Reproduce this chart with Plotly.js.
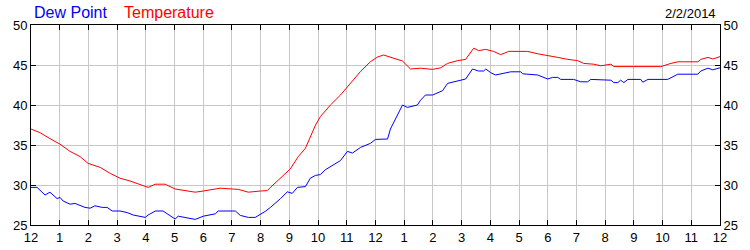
<!DOCTYPE html>
<html>
<head>
<meta charset="utf-8">
<script src="https://cdn.plot.ly/plotly-3.0.1.min.js"></script>
<style>html,body{margin:0;padding:0;background:#fff;}#chart{width:750px;height:250px;}</style>
</head>
<body>
<div id="chart"></div>
<script>
// hours since midnight and readings
const tempHours = [0,0.31,0.66,1.01,1.36,1.71,1.99,2.41,2.76,3.10,3.45,3.80,4.08,4.33,4.67,5.02,5.72,6.00,6.59,7.22,7.57,7.99,8.23,8.34,8.69,9.03,9.31,9.56,9.73,9.91,10.08,10.43,10.78,11.13,11.48,11.82,12.07,12.28,12.77,12.94,13.22,13.57,13.99,14.27,14.51,14.86,15.14,15.42,15.59,15.84,16.11,16.36,16.64,17.30,17.65,18.00,18.35,18.70,19.04,19.25,19.60,19.85,20.20,20.30,21.94,22.29,22.53,23.23,23.33,23.58,23.75,24.0];
const tempValues = [37.0,36.55,35.8,35.1,34.2,33.55,32.7,32.2,31.45,30.85,30.5,30.1,29.7,30.1,30.1,29.5,29.1,29.25,29.6,29.45,29.1,29.25,29.3,29.7,30.85,32.0,33.55,34.6,36.0,37.5,38.55,40.0,41.25,42.7,44.2,45.4,46.0,46.25,45.75,45.5,44.5,44.6,44.45,44.65,45.2,45.55,45.7,47.1,46.8,46.95,46.7,46.3,46.7,46.7,46.4,46.2,45.95,45.7,45.55,45.2,45.1,44.9,45.1,44.8,44.8,45.2,45.4,45.4,45.7,45.95,45.75,46.05];

const dewHours = [0,0.21,0.49,0.66,0.91,1.01,1.12,1.36,1.53,1.71,1.88,2.06,2.23,2.48,2.65,2.83,3.10,3.35,3.56,3.98,4.08,4.33,4.60,5.02,5.13,5.72,6.00,6.42,6.52,7.12,7.29,7.57,7.81,8.16,8.34,8.69,8.93,9.10,9.28,9.56,9.73,9.91,10.08,10.25,10.50,10.78,11.02,11.20,11.48,11.82,12.00,12.42,12.52,12.80,12.94,13.11,13.46,13.57,13.74,13.99,14.34,14.51,14.86,15.14,15.38,15.59,15.77,15.84,16.01,16.18,16.71,17.06,17.13,17.65,18.00,18.17,18.35,18.45,18.90,19.15,19.39,19.50,20.20,20.30,20.44,20.54,20.65,20.79,21.24,21.31,21.49,22.18,22.53,23.23,23.33,23.58,23.75,24.0];
const dewValues = [29.7,29.7,28.75,29.1,28.3,28.45,28.0,27.6,27.7,27.4,27.2,27.1,27.4,27.2,27.2,26.75,26.75,26.55,26.25,25.95,26.25,26.75,26.75,25.75,26.1,25.7,26.1,26.4,26.75,26.75,26.2,25.95,25.95,26.7,27.2,28.3,29.15,28.95,29.7,29.8,30.85,31.2,31.3,31.9,32.4,33.05,34.2,34.0,34.7,35.2,35.7,35.75,37.0,38.95,40.0,39.7,40.0,40.6,41.25,41.25,41.8,42.7,43.0,43.25,44.5,44.25,44.25,44.5,44.05,43.75,44.15,44.15,43.9,43.75,43.25,43.45,43.45,43.2,43.2,42.9,42.9,43.2,43.1,42.8,42.8,43.1,42.8,43.2,43.2,42.85,43.2,43.2,43.85,43.85,44.25,44.6,44.4,44.65];

const xTickVals = [0,1,2,3,4,5,6,7,8,9,10,11,12,13,14,15,16,17,18,19,20,21,22,23,24];
const xTickText = ["12","1","2","3","4","5","6","7","8","9","10","11","12","1","2","3","4","5","6","7","8","9","10","11","12"];
const yTickVals = [25,30,35,40,45,50];
const seriesNames = ["Dew Point","Temperature"];
const dateLabel = "2/2/2014";

const font = {family: "Liberation Sans, Arial, sans-serif", size: 13, color: "#000"};

const traces = [
  {x: dewHours, y: dewValues, type: "scatter", mode: "lines", name: seriesNames[0],
   line: {color: "#0000ff", width: 1}, hoverinfo: "skip"},
  {x: tempHours, y: tempValues, type: "scatter", mode: "lines", name: seriesNames[1],
   line: {color: "#ff0000", width: 1}, yaxis: "y2", hoverinfo: "skip"}
];

const yBase = {
  range: [25, 50], tickvals: yTickVals, ticks: "inside", ticklen: 5, tickcolor: "#000",
  showgrid: true, gridcolor: "#c8c8c8", gridwidth: 1, zeroline: false,
  showline: true, linecolor: "#000", linewidth: 1, tickfont: font, fixedrange: true
};

const layout = {
  width: 750, height: 250,
  margin: {l: 31, r: 30, t: 25, b: 25, pad: 0},
  paper_bgcolor: "#fff", plot_bgcolor: "#fff",
  showlegend: false,
  font: font,
  xaxis: {
    range: [0, 24], tickvals: xTickVals, ticktext: xTickText,
    ticks: "inside", ticklen: 5, tickcolor: "#000",
    showgrid: true, gridcolor: "#c8c8c8", gridwidth: 1, zeroline: false,
    showline: true, linecolor: "#000", linewidth: 1, mirror: "ticks",
    tickfont: font, fixedrange: true
  },
  yaxis: Object.assign({}, yBase, {side: "left", mirror: "ticks"}),
  yaxis2: Object.assign({}, yBase, {side: "right", overlaying: "y", showgrid: false}),
  annotations: [
    {text: seriesNames[0], xref: "paper", yref: "paper", x: 0, y: 1, xshift: 1, yshift: 13,
     xanchor: "left", yanchor: "middle", showarrow: false,
     font: {family: "Liberation Sans, Arial, sans-serif", size: 16, color: "#0000ff"}},
    {text: seriesNames[1], xref: "paper", yref: "paper", x: 0, y: 1, xshift: 91, yshift: 13,
     xanchor: "left", yanchor: "middle", showarrow: false,
     font: {family: "Liberation Sans, Arial, sans-serif", size: 16, color: "#ff0000"}},
    {text: dateLabel, xref: "paper", yref: "paper", x: 1, y: 1, xshift: -2, yshift: 12,
     xanchor: "right", yanchor: "middle", showarrow: false,
     font: font}
  ]
};

Plotly.newPlot("chart", traces, layout, {displayModeBar: false, staticPlot: true});
</script>
</body>
</html>
